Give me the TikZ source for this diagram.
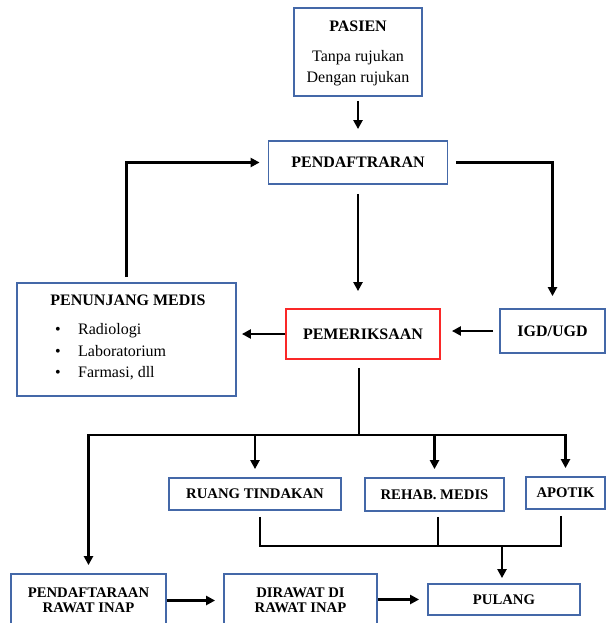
\documentclass[tikz,border=0pt]{standalone}
\usepackage{fontspec}
\setmainfont{Liberation Serif}
\usetikzlibrary{arrows.meta,calc}
\definecolor{boxblue}{RGB}{68,104,168}
\definecolor{boxred}{RGB}{250,40,40}
\newcommand\topsz{\fontsize{16}{21}\selectfont}
\newcommand\botsz{\fontsize{14.7}{15.5}\selectfont}
\tikzset{
  box/.style={draw=boxblue, line width=1.8pt, fill=white, inner sep=0pt,
              align=center, font=\topsz\bfseries},
  smallbox/.style={box, font=\botsz\bfseries},
  redbox/.style={box, draw=boxred},
  txt/.style={inner sep=0pt, font=\topsz},
  wire/.style={line width=2.6pt, black},
  arr/.style={wire, -{Triangle[length=9pt,width=9pt]}}
}
\begin{document}
\begin{tikzpicture}[x=1pt,y=-1pt]
\fill[white] (0,0) rectangle (606,623);
\useasboundingbox (0,0) rectangle (606,623);

% patient entry
\node[box, minimum width=128pt, minimum height=88pt] (pasien) at (358,52) {};
\node[txt, font=\topsz\bfseries, anchor=base] (pasienT) at (358,31.5) {PASIEN};
\node[txt, anchor=base] (pasienA) at (358,61.5) {Tanpa rujukan};
\node[txt, anchor=base] (pasienB) at (358,82.5) {Dengan rujukan};

\node[box, minimum width=179pt, minimum height=43pt] (pendaf) at (358,162.5) {PENDAFTRARAN};

% supporting services
\node[box, minimum width=219pt, minimum height=113pt] (penunjang) at (126.5,339.5) {};
\node[txt, font=\topsz\bfseries, anchor=base] (penT) at (128,305) {PENUNJANG MEDIS};
\node[txt, anchor=base] (b1) at (58,334) {•};
\node[txt, anchor=base] (b2) at (58,356) {•};
\node[txt, anchor=base] (b3) at (58,377.5) {•};
\node[txt, anchor=base west] (i1) at (78,334) {Radiologi};
\node[txt, anchor=base west] (i2) at (78,356) {Laboratorium};
\node[txt, anchor=base west] (i3) at (78,377.5) {Farmasi, dll};

\node[redbox, minimum width=154pt, minimum height=50pt] (pemer) at (363,334) {PEMERIKSAAN};
\node[box, minimum width=105pt, minimum height=44pt] (igd) at (552.5,331) {IGD/UGD};

% follow-up units
\node[smallbox, minimum width=172pt, minimum height=32pt] (ruang) at (255,494) {RUANG TINDAKAN};
\node[smallbox, minimum width=139pt, minimum height=33pt] (rehab) at (434.5,494.5) {REHAB. MEDIS};
\node[smallbox, minimum width=79pt, minimum height=32pt] (apotik) at (565.5,493) {APOTIK};

\node[smallbox, minimum width=155pt, minimum height=53pt] (prInap) at (88.5,600.5) {PENDAFTARAAN\\RAWAT INAP};
\node[smallbox, minimum width=153pt, minimum height=53pt] (dirawat) at (300.5,600.5) {DIRAWAT DI\\RAWAT INAP};
\node[smallbox, minimum width=152pt, minimum height=31pt] (pulang) at (504,599.5) {PULANG};

\coordinate (bus) at (359,435);
\coordinate (join) at (502,546);

% connectors
\draw[arr, shorten <=4pt, shorten >=11pt] (pasien.south) -- (pendaf.north);
\draw[arr, shorten <=9pt, shorten >=17pt] (pendaf.south) -- (pendaf.south |- pemer.north);
\draw[arr, shorten <=5pt, shorten >=8pt] (penunjang.north) |- (pendaf.west);
\draw[arr, shorten <=8pt, shorten >=12pt] (pendaf.east) -| (igd.north);
\draw[arr, shorten <=6pt, shorten >=11pt] (igd.west) -- (igd.west -| pemer.east);
\draw[arr, shorten >=5pt] (pemer.west) -- (pemer.west -| penunjang.east);

\draw[wire, shorten <=8pt] (pemer.south -| bus) -- (bus);
\draw[arr, shorten >=8pt] (bus) -| (prInap.north);
\draw[arr, shorten >=8pt] (bus) -| (apotik.north);
\draw[arr, shorten >=8pt] (bus -| ruang.north) -- (ruang.north);
\draw[arr, shorten >=8pt] (bus -| rehab.north) -- (rehab.north);

\draw[wire, shorten <=6pt] ([xshift=5pt]ruang.south) |- (join);
\draw[wire, shorten <=6pt] ([xshift=-4.5pt]apotik.south) |- (join);
\draw[wire, shorten <=5pt] ([xshift=3.5pt]rehab.south) -- ([xshift=3.5pt]rehab.south |- join);
\draw[arr, shorten >=5pt] (join) -- (join |- pulang.north);

\draw[arr, shorten >=8pt] (prInap.east) -- (dirawat.west);
\draw[arr, shorten >=8pt] (dirawat.east |- pulang.west) -- (pulang.west);
\end{tikzpicture}
\end{document}
